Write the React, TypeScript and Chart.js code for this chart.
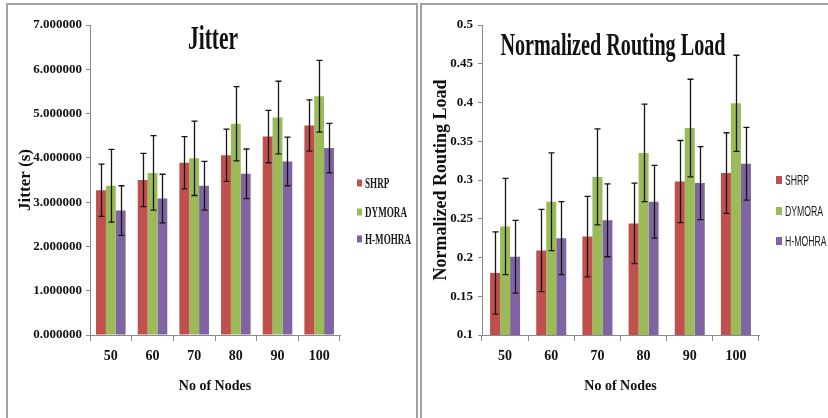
import React, { useEffect, useRef } from 'react';
import { Chart, registerables } from 'chart.js';

Chart.register(...registerables);

// ---------- data ----------
const nodes = ['50', '60', '70', '80', '90', '100'];
const seriesNames = ['SHRP', 'DYMORA', 'H-MOHRA'];
const seriesColors = ['#C0504D', '#9BBB59', '#8064A2'];

const jitterSHRP = [3.27, 3.5, 3.89, 4.06, 4.48, 4.73];
const jitterDYMORA = [3.37, 3.66, 3.99, 4.77, 4.91, 5.39];
const jitterHMOHRA = [2.81, 3.08, 3.37, 3.64, 3.92, 4.22];
const jitterErrSHRP = [0.59, 0.6, 0.59, 0.59, 0.59, 0.58];
const jitterErrDYMORA = [0.82, 0.84, 0.84, 0.84, 0.82, 0.81];
const jitterErrHMOHRA = [0.56, 0.55, 0.55, 0.56, 0.55, 0.56];

const nrlSHRP = [0.18, 0.209, 0.227, 0.244, 0.298, 0.309];
const nrlDYMORA = [0.24, 0.272, 0.304, 0.335, 0.367, 0.399];
const nrlHMOHRA = [0.201, 0.225, 0.248, 0.272, 0.296, 0.321];
const nrlErrSHRP = [0.053, 0.053, 0.052, 0.052, 0.053, 0.052];
const nrlErrDYMORA = [0.062, 0.063, 0.062, 0.063, 0.063, 0.062];
const nrlErrHMOHRA = [0.047, 0.047, 0.047, 0.047, 0.047, 0.047];

const jitterRange = [0, 7, 1];
const nrlRange = [0.1, 0.5, 0.05];

const SERIF = '"Liberation Serif", "Times New Roman", serif';
const SANS = '"Liberation Sans", Arial, sans-serif';

// ---------- plugins ----------
const errorBarPlugin = {
  id: 'errorBars',
  afterDatasetsDraw(chart: any) {
    const ctx = chart.ctx;
    const ys = chart.scales.y;
    chart.data.datasets.forEach((ds: any, i: number) => {
      const meta = chart.getDatasetMeta(i);
      meta.data.forEach((bar: any, j: number) => {
        const v = ds.data[j];
        const e = ds.errors[j];
        const top = ys.getPixelForValue(v + e);
        const bot = ys.getPixelForValue(v - e);
        const x = Math.round(bar.x) + 0.5;
        ctx.save();
        ctx.strokeStyle = '#151515';
        ctx.lineWidth = 1.3;
        ctx.beginPath();
        ctx.moveTo(x, top);
        ctx.lineTo(x, bot);
        ctx.moveTo(x - 3, top);
        ctx.lineTo(x + 3, top);
        ctx.moveTo(x - 3, bot);
        ctx.lineTo(x + 3, bot);
        ctx.stroke();
        ctx.restore();
      });
    });
  },
};

function squeezedText(ctx: any, text: string, x: number, y: number, k: number, align: string, baseline: string) {
  ctx.save();
  ctx.translate(x, y);
  ctx.scale(k, 1);
  ctx.textAlign = align;
  ctx.textBaseline = baseline;
  ctx.fillText(text, 0, 0);
  ctx.restore();
}

function decorPlugin(cfg: any) {
  return {
    id: 'decor',
    afterDraw(chart: any) {
      const ctx = chart.ctx;
      ctx.save();
      ctx.fillStyle = '#111';
      ctx.font = cfg.titleFont;
      squeezedText(ctx, cfg.title, cfg.titleX, cfg.titleY, cfg.titleK, 'center', 'alphabetic');
      chart.data.datasets.forEach((ds: any, i: number) => {
        const cy = cfg.legendYs[i];
        ctx.fillStyle = ds.backgroundColor;
        ctx.fillRect(cfg.boxX, cy - cfg.boxH / 2, cfg.boxW, cfg.boxH);
        ctx.fillStyle = '#1a1a1a';
        ctx.font = cfg.legendFont;
        squeezedText(ctx, ds.label, cfg.textX, cy + 1, cfg.legendK, 'left', 'middle');
      });
      ctx.restore();
    },
  };
}

function makeDatasets(values: number[][], errors: number[][], pct: number) {
  return values.map((vals, i) => ({
    label: seriesNames[i],
    data: vals,
    errors: errors[i],
    backgroundColor: seriesColors[i],
    borderWidth: 0,
    categoryPercentage: pct,
    barPercentage: 1,
  }));
}

function axisOptions(o: any) {
  return {
    x: {
      grid: { display: true, drawOnChartArea: false, drawTicks: true, tickLength: 6, color: '#8a8a8a', tickColor: '#8a8a8a' },
      border: { display: true, color: '#8a8a8a', width: 1 },
      ticks: { color: '#111', font: { family: SERIF, weight: 'bold', size: 14 }, padding: 7 },
      title: { display: true, text: 'No of Nodes', color: '#111', font: { family: SERIF, weight: 'bold', size: 14 }, padding: { top: 0, bottom: 23 } },
      afterFit: (s: any) => { s.height = 83; },
    },
    y: {
      min: o.range[0],
      max: o.range[1],
      grid: { display: true, drawOnChartArea: false, drawTicks: true, tickLength: 4, color: '#8a8a8a', tickColor: '#8a8a8a' },
      border: { display: true, color: '#8a8a8a', width: 1 },
      ticks: { stepSize: o.range[2], color: '#111', font: { family: SERIF, weight: 'bold', size: 13 }, padding: o.tickPad, callback: o.fmt },
      title: { display: true, text: o.yTitle, color: '#111', font: { family: SERIF, weight: 'bold', size: o.yTitleSize }, padding: { top: o.yTitlePad, bottom: 0 } },
      afterFit: (s: any) => { s.width = o.yWidth; },
    },
  };
}

function jitterConfig(): any {
  return {
    type: 'bar',
    data: {
      labels: nodes,
      datasets: makeDatasets([jitterSHRP, jitterDYMORA, jitterHMOHRA], [jitterErrSHRP, jitterErrDYMORA, jitterErrHMOHRA], 0.71),
    },
    options: {
      responsive: false,
      animation: false,
      layout: { padding: { top: 20, right: 76, left: 0, bottom: 0 } },
      plugins: { legend: { display: false }, title: { display: false }, tooltip: { enabled: false } },
      scales: axisOptions({
        range: jitterRange,
        fmt: (v: number) => Number(v).toFixed(6),
        tickPad: 4,
        yTitle: 'Jitter (s)',
        yTitleSize: 17,
        yTitlePad: 7,
        yWidth: 82,
      }),
    },
    plugins: [
      errorBarPlugin,
      decorPlugin({
        title: 'Jitter',
        titleFont: `bold 33px ${SERIF}`,
        titleX: 205,
        titleY: 44,
        titleK: 0.65,
        legendYs: [178, 207, 234],
        boxX: 349,
        boxW: 5,
        boxH: 7,
        textX: 357,
        legendFont: `bold 14px ${SERIF}`,
        legendK: 0.65,
      }),
    ],
  };
}

function nrlConfig(): any {
  return {
    type: 'bar',
    data: {
      labels: nodes,
      datasets: makeDatasets([nrlSHRP, nrlDYMORA, nrlHMOHRA], [nrlErrSHRP, nrlErrDYMORA, nrlErrHMOHRA], 0.65),
    },
    options: {
      responsive: false,
      animation: false,
      layout: { padding: { top: 20, right: 69, left: 0, bottom: 0 } },
      plugins: { legend: { display: false }, title: { display: false }, tooltip: { enabled: false } },
      scales: axisOptions({
        range: nrlRange,
        fmt: (v: number) => String(Math.round(Number(v) * 100) / 100),
        tickPad: 5,
        yTitle: 'Normalized Routing Load',
        yTitleSize: 18,
        yTitlePad: 9,
        yWidth: 60,
      }),
    },
    plugins: [
      errorBarPlugin,
      decorPlugin({
        title: 'Normalized Routing Load',
        titleFont: `bold 32px ${SERIF}`,
        titleX: 191,
        titleY: 50,
        titleK: 0.63,
        legendYs: [175, 206, 236],
        boxX: 354,
        boxW: 6,
        boxH: 8,
        textX: 363,
        legendFont: `14px ${SANS}`,
        legendK: 0.62,
      }),
    ],
  };
}

function ChartCanvas(props: { make: () => any; left: number; top: number; width: number; height: number }) {
  const ref = useRef<HTMLCanvasElement | null>(null);
  useEffect(() => {
    const chart = new Chart(ref.current as HTMLCanvasElement, props.make());
    return () => chart.destroy();
  }, []);
  return (
    <canvas
      ref={ref}
      width={props.width}
      height={props.height}
      style={{ position: 'absolute', left: props.left, top: props.top, width: props.width, height: props.height }}
    />
  );
}

export default function App() {
  const border = '2px solid #a2a2a2';
  return (
    <div style={{ position: 'absolute', left: 0, top: 0, width: 828, height: 418, overflow: 'hidden', background: '#fff' }}>
      <div style={{ position: 'absolute', left: 6, top: 3, width: 412, height: 415, boxSizing: 'border-box', borderTop: border, borderLeft: border, borderRight: border }} />
      <div style={{ position: 'absolute', left: 420, top: 3, width: 408, height: 415, boxSizing: 'border-box', borderTop: border, borderLeft: border }} />
      <ChartCanvas make={jitterConfig} left={8} top={5} width={408} height={413} />
      <ChartCanvas make={nrlConfig} left={422} top={5} width={406} height={413} />
    </div>
  );
}
